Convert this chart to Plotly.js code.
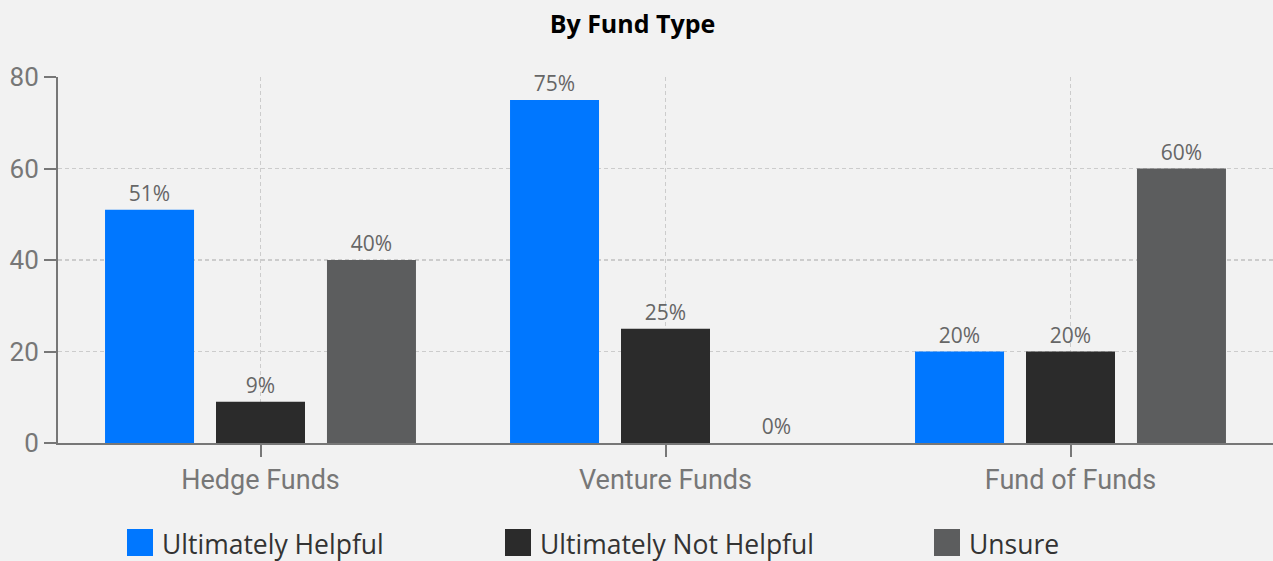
<!DOCTYPE html>
<html>
<head>
<meta charset="utf-8">
<script src="https://cdn.plot.ly/plotly-3.0.1.min.js"></script>
<style>
html,body{margin:0;padding:0;background:#f2f2f2;}
#chart{width:1273px;height:561px;}
</style>
</head>
<body>
<div id="chart"></div>
<script>
const categories = ["Hedge Funds", "Venture Funds", "Fund of Funds"];
const seriesNames = ["Ultimately Helpful", "Ultimately Not Helpful", "Unsure"];
const helpful = [51, 75, 20];
const notHelpful = [9, 25, 20];
const unsure = [40, 0, 60];
const seriesColors = ["#0077ff", "#2b2b2b", "#5c5d5e"];
const yTicks = [0, 20, 40, 60, 80];
const chartTitle = "By Fund Type";

const W = 1273, H = 561;
const M = {l: 58, r: 0, t: 77, b: 118};
const pw = W - M.l - M.r, ph = H - M.t - M.b;
const px2x = p => (p - M.l) / pw;
const py2y = p => (H - M.b - p) / ph;

const values = [helpful, notHelpful, unsure];
const traces = values.map((v, i) => ({
  type: "bar",
  name: seriesNames[i],
  x: categories,
  y: v,
  marker: {color: seriesColors[i]},
  texttemplate: "%{y}%",
  textposition: "outside",
  textfont: {family: "Open Sans", size: 21, color: "#666666"},
  cliponaxis: false,
  showlegend: false,
  hoverinfo: "x+y+name"
}));

// manual legend (swatches + labels)
const legendSwatchX = [127, 505, 934];
const shapes = [];
const annotations = [];
legendSwatchX.forEach((sx, i) => {
  const x0 = sx, x1 = sx + 26, y0 = 529, y1 = 556;
  shapes.push({
    type: "rect", xref: "paper", yref: "paper",
    x0: px2x(x0), x1: px2x(x1), y0: py2y(y1), y1: py2y(y0),
    fillcolor: seriesColors[i], line: {width: 0}
  });
  annotations.push({
    xref: "paper", yref: "paper",
    x: px2x(sx + 33), y: py2y(544),
    xanchor: "left", yanchor: "middle",
    text: seriesNames[i], showarrow: false,
    font: {family: "Open Sans", size: 26.5, color: "#333333"}
  });
});

const layout = {
  width: W, height: H,
  margin: M,
  paper_bgcolor: "#f2f2f2",
  plot_bgcolor: "#f2f2f2",
  title: {
    text: "<b>" + chartTitle + "</b>",
    font: {family: "Open Sans", size: 25, color: "#000000"},
    x: 632.5 / W, xref: "container", y: 1 - 24 / H, yref: "container",
    xanchor: "center", yanchor: "middle"
  },
  barmode: "group",
  bargap: 0.178,
  bargroupgap: 0.198,
  xaxis: {
    type: "category",
    showgrid: true, gridcolor: "#cccccc", gridwidth: 1.3, griddash: "4px,3px",
    showline: true, linecolor: "#777777", linewidth: 2,
    ticks: "outside", ticklen: 12, tickwidth: 2, tickcolor: "#777777",
    tickfont: {family: "Roboto", size: 27, color: "#777777"},
    zeroline: false, fixedrange: true
  },
  yaxis: {
    range: [0, 80],
    tickvals: yTicks,
    showgrid: true, gridcolor: "#cccccc", gridwidth: 1.3, griddash: "4px,3px",
    showline: true, linecolor: "#777777", linewidth: 2,
    ticks: "outside", ticklen: 12, tickwidth: 2, tickcolor: "#777777",
    tickfont: {family: "Roboto", size: 26, color: "#777777"},
    zeroline: false, fixedrange: true
  },
  shapes: shapes,
  annotations: annotations,
  showlegend: false
};

Plotly.newPlot("chart", traces, layout, {displayModeBar: false, staticPlot: true});
</script>
</body>
</html>
